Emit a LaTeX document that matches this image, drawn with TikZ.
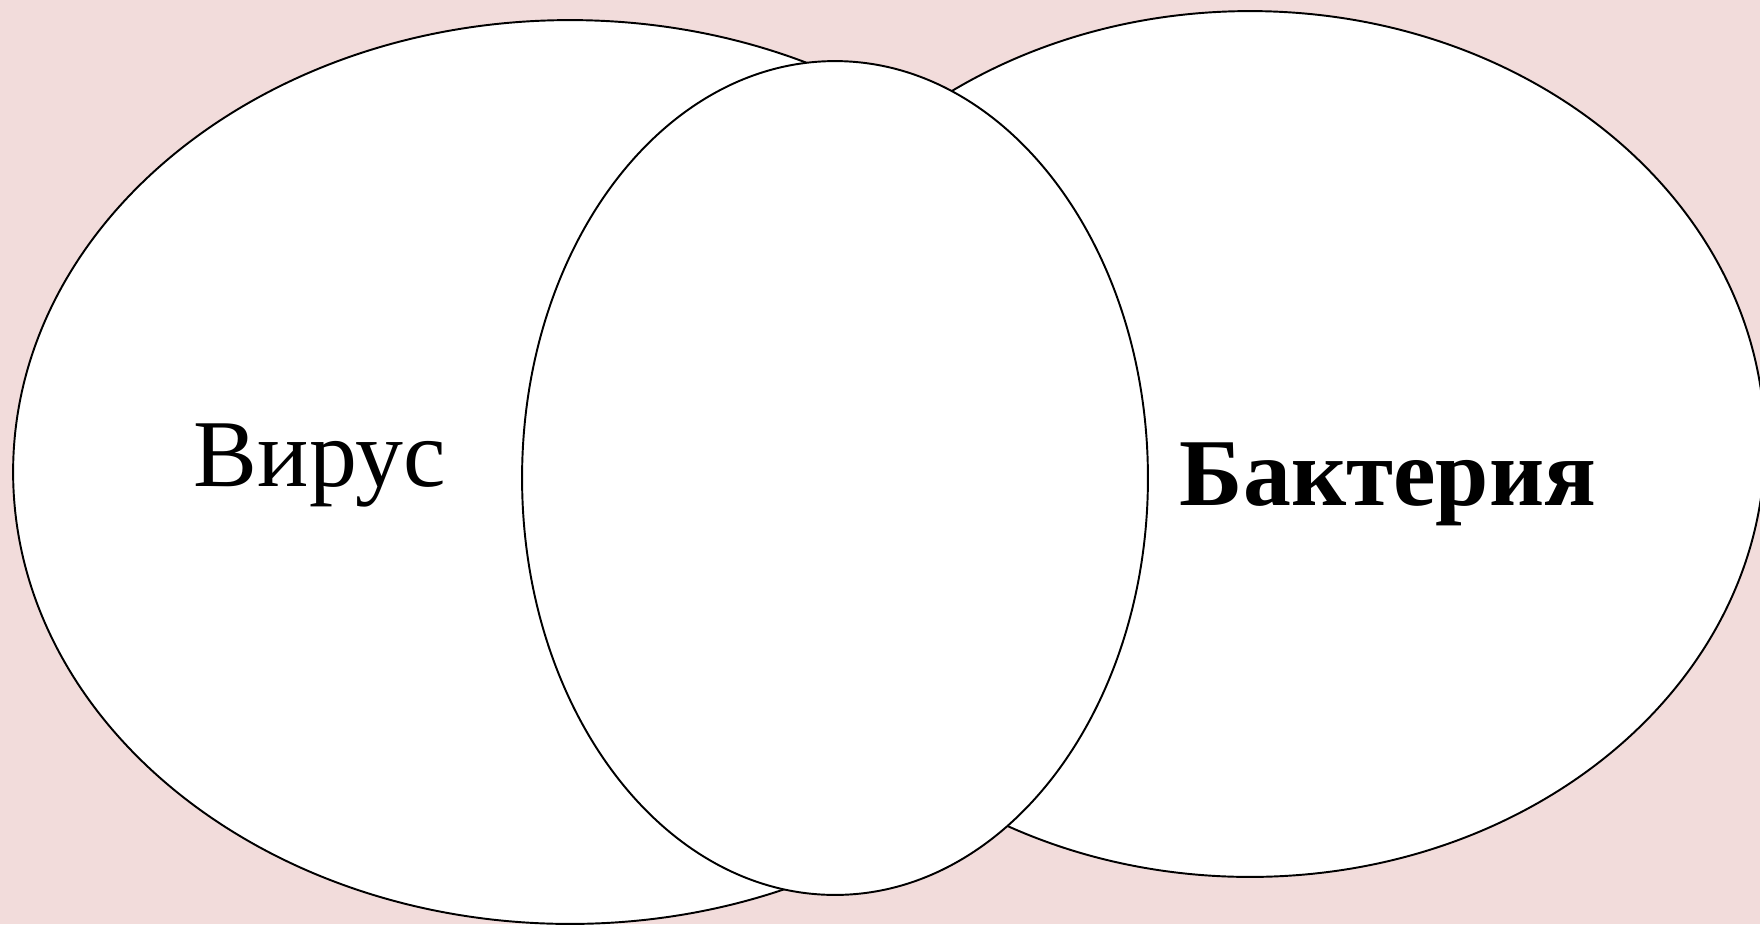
\documentclass[tikz,border=0pt]{standalone}
\usepackage{fontspec}
\setmainfont{Liberation Serif}
\usetikzlibrary{shapes.geometric}
\definecolor{bgpink}{HTML}{F2DCDB}

\begin{document}
\begin{tikzpicture}[
  x=0.02cm, y=-0.02cm,
  venn/.style={ellipse, draw=black, fill=white, line width=1.1pt, inner sep=0pt},
  setlabel/.style={font=\fontsize{54.5}{64}\selectfont, text=black, anchor=base}
]
  % page and background
  \useasboundingbox (0,0) rectangle (1760,924);
  \fill[bgpink] (0,0) rectangle (1760,924);

  % the three sets
  \node[venn, minimum width=22.28cm, minimum height=18.08cm] (virus) at (570,472) {};
  \node[venn, minimum width=20.6cm, minimum height=17.32cm] (bact) at (1250,444) {};
  \node[venn, minimum width=12.52cm, minimum height=16.68cm] (common) at (835,478) {};

  % labels
  \node[setlabel] (viruslabel) at (320,486) {Вирус};
  \node[setlabel, font=\fontsize{54.5}{64}\selectfont\bfseries] (bactlabel) at (1388,505) {Бактерия};
\end{tikzpicture}
\end{document}
